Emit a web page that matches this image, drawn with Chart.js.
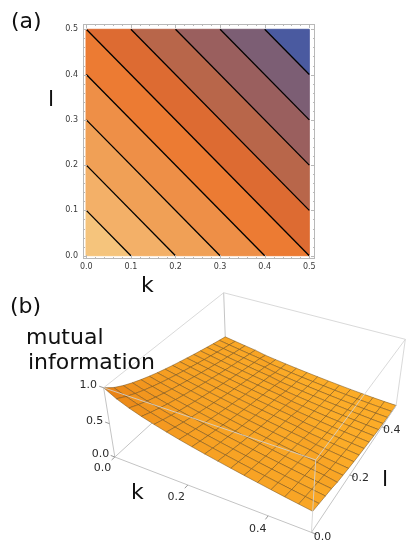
<!DOCTYPE html>
<html><head><meta charset="utf-8">
<script src="https://cdn.jsdelivr.net/npm/chart.js@4.4.1/dist/chart.umd.min.js"></script>
<style>
html,body{margin:0;padding:0;background:#fff;width:416px;height:550px;overflow:hidden}
canvas{position:absolute;left:0;top:0}
.lbl{position:absolute;font-family:"DejaVu Sans";font-size:22px;line-height:22px;color:#111;white-space:nowrap}
</style></head><body>
<canvas id="ca" width="416" height="300"></canvas>
<canvas id="cb" width="416" height="550" style="pointer-events:none"></canvas>
<div class="lbl" style="left:11px;top:10px">(a)</div>
<div class="lbl" style="left:48px;top:88px">l</div>
<div class="lbl" style="left:141px;top:274px">k</div>
<div class="lbl" style="left:10px;top:295px">(b)</div>
<div class="lbl" style="left:26px;top:326px">mutual</div>
<div class="lbl" style="left:28px;top:351px">information</div>
<div class="lbl" style="left:131px;top:481px">k</div>
<div class="lbl" style="left:382px;top:468px">l</div>
<script>
// ---------- data ----------
const kRange = [0, 0.5];
const lRange = [0, 0.5];
const zRange = [0, 1];
const kTicks = [0, 0.1, 0.2, 0.3, 0.4, 0.5];
const lTicks = [0, 0.1, 0.2, 0.3, 0.4, 0.5];
const contourLevels = [0.1, 0.2, 0.3, 0.4, 0.5, 0.6, 0.7, 0.8, 0.9];   // k + l
const bandColors = ['#F5C47C','#F3B068','#F0A056','#EE8F47','#EC7B33','#DD6B32','#B8664A','#9A5F5E','#7C5E74','#4A5AA0'];
// mutual information read along k + l, in steps of 1/32
const miProfile = [1.000,0.905,0.835,0.777,0.726,0.680,0.637,0.598,0.561,0.526,0.492,0.459,0.427,0.396,0.366,0.337,
                   0.309,0.282,0.256,0.231,0.195,0.172,0.150,0.129,0.110,0.092,0.075,0.059,0.044,0.031,0.019,0.009,0.002];
const meshCells = 16;
const kTicks3D = [0, 0.2, 0.4];
const lTicks3D = [0, 0.2, 0.4];
const zTicks3D = [0, 0.5, 1];

// ---------- panel (a) ----------
function clipHalf(poly, f){
  const out=[];
  for(let i=0;i<poly.length;i++){
    const a=poly[i], b=poly[(i+1)%poly.length], fa=f(a), fb=f(b);
    if(fa>=0) out.push(a);
    if((fa>=0)!==(fb>=0)){const t=fa/(fa-fb); out.push({x:a.x+t*(b.x-a.x), y:a.y+t*(b.y-a.y)});}
  }
  return out;
}
const k0=kRange[0],k1=kRange[1],l0=lRange[0],l1=lRange[1],z0=zRange[0],z1=zRange[1];
const square=[{x:k0,y:l0},{x:k1,y:l0},{x:k1,y:l1},{x:k0,y:l1}];
const bounds=[k0+l0, ...contourLevels, k1+l1];
const dsA=[];
contourLevels.forEach(c=>{
  const xa=Math.max(k0,c-l1), xb=Math.min(k1,c-l0);
  dsA.push({data:[{x:xa,y:c-xa},{x:xb,y:c-xb}], borderColor:'#000', borderWidth:1.3, pointRadius:0, fill:false, order:0});
});
for(let b=0;b<bandColors.length;b++){
  const lo=bounds[b], hi=bounds[b+1];
  let poly=clipHalf(square,p=>p.x+p.y-lo);
  poly=clipHalf(poly,p=>hi-(p.x+p.y));
  poly.push(poly[0]);
  dsA.push({data:poly, backgroundColor:bandColors[b], borderColor:bandColors[b], borderWidth:1, pointRadius:0, fill:'shape', order:1});
}
const frameA={id:'frameA', afterDatasetsDraw(chart){
  const {ctx, chartArea:a, scales:{x,y}}=chart;
  ctx.save();
  ctx.strokeStyle='#b8b8b8'; ctx.lineWidth=1;
  ctx.strokeRect(a.left+0.5,a.top+0.5,a.right-a.left-1,a.bottom-a.top-1);
  ctx.beginPath();
  for(let v=k0; v<=k1+1e-9; v+=0.02){
    const major=kTicks.some(t=>Math.abs(t-v)<1e-6), L=major?4:2, px=Math.round(x.getPixelForValue(v))+0.5;
    ctx.moveTo(px,a.bottom); ctx.lineTo(px,a.bottom-L); ctx.moveTo(px,a.top); ctx.lineTo(px,a.top+L);
  }
  for(let v=l0; v<=l1+1e-9; v+=0.02){
    const major=lTicks.some(t=>Math.abs(t-v)<1e-6), L=major?4:2, py=Math.round(y.getPixelForValue(v))+0.5;
    ctx.moveTo(a.left,py); ctx.lineTo(a.left+L,py); ctx.moveTo(a.right,py); ctx.lineTo(a.right-L,py);
  }
  ctx.stroke();
  ctx.fillStyle='#3a3a3a'; ctx.font='8px "DejaVu Sans"';
  ctx.textAlign='center'; ctx.textBaseline='middle';
  kTicks.forEach(v=>ctx.fillText(v.toFixed(1), x.getPixelForValue(v), a.bottom+7.5));
  ctx.textAlign='right';
  lTicks.forEach(v=>ctx.fillText(v.toFixed(1), a.left-5, y.getPixelForValue(v)));
  ctx.restore();
}};
new Chart(document.getElementById('ca'),{
  type:'line', data:{datasets:dsA},
  options:{responsive:false, animation:false, events:[],
    layout:{padding:{left:83,top:24,right:101,bottom:41}},
    plugins:{legend:{display:false},tooltip:{enabled:false}},
    scales:{x:{type:'linear',display:false,min:-0.0074,max:0.5128},
            y:{type:'linear',display:false,min:-0.0073,max:0.5117}}},
  plugins:[frameA]
});

// ---------- panel (b) ----------
const view={vp:[1.3,-2.4,2], box:[1,1,0.4], cx:262, cy:397.4, sx:725, sy:710, w:416, h:550};
const sub=(a,b)=>[a[0]-b[0],a[1]-b[1],a[2]-b[2]], dot=(a,b)=>a[0]*b[0]+a[1]*b[1]+a[2]*b[2];
const cross=(a,b)=>[a[1]*b[2]-a[2]*b[1],a[2]*b[0]-a[0]*b[2],a[0]*b[1]-a[1]*b[0]];
const norm=a=>{const n=Math.hypot(...a);return a.map(v=>v/n);};
const fwd=norm(view.vp.map(v=>-v)), right=norm(cross(fwd,[0,0,1])), up=cross(right,fwd);
function toBox(k,l,z){return [((k-k0)/(k1-k0)-0.5)*view.box[0], ((l-l0)/(l1-l0)-0.5)*view.box[1], ((z-z0)/(z1-z0)-0.5)*view.box[2]];}
function proj(k,l,z){const rel=sub(toBox(k,l,z),view.vp), d=dot(rel,fwd);return {x:dot(rel,right)/d, y:dot(rel,up)/d};}
function depthOf(k,l,z){return Math.hypot(...sub(toBox(k,l,z),view.vp));}

const draws=[];
const edgeBack='#c4c4c4', edgeFront='rgba(210,210,210,0.85)';
function edge(a,b,col){draws.push({data:[proj(...a),proj(...b)], borderColor:col, borderWidth:1, pointRadius:0, fill:false});}
// edges hidden behind the surface
edge([k0,l0,z0],[k0,l1,z0],edgeBack); edge([k0,l1,z0],[k1,l1,z0],edgeBack);
edge([k0,l1,z0],[k0,l1,z1],edgeBack); edge([k0,l0,z0],[k0,l0,z1],edgeBack);
// surface
const dk=(k1-k0)/meshCells, dl=(l1-l0)/meshCells;
const zAt=(i,j)=>miProfile[i+j];
const quads=[];
const L=norm([-0.25,-0.45,1]);
for(let i=0;i<meshCells;i++)for(let j=0;j<meshCells;j++){
  const ka=k0+i*dk, kb=ka+dk, la=l0+j*dl, lb=la+dl;
  const z00=zAt(i,j), z10=zAt(i+1,j), z11=zAt(i+1,j+1), z01=zAt(i,j+1);
  const p00=toBox(ka,la,z00), p10=toBox(kb,la,z10), p11=toBox(kb,lb,z11), p01=toBox(ka,lb,z01);
  const n=norm(cross(sub(p11,p00),sub(p01,p10)));
  const s=Math.max(0,Math.min(1,(dot(n,L)-0.5)/(0.8-0.5)));
  const c0=[234,132,22], c1=[252,172,40];
  const col='rgb('+c0.map((v,q)=>Math.round(v+(c1[q]-v)*s)).join(',')+')';
  quads.push({depth:depthOf((ka+kb)/2,(la+lb)/2,(z00+z10+z11+z01)/4),
    data:[proj(ka,la,z00),proj(kb,la,z10),proj(kb,lb,z11),proj(ka,lb,z01),proj(ka,la,z00)], col});
}
quads.sort((a,b)=>b.depth-a.depth);
quads.forEach(q=>draws.push({data:q.data, backgroundColor:q.col, borderColor:'rgba(110,75,25,0.62)', borderWidth:0.8, pointRadius:0, fill:'shape'}));
// edges in front
edge([k0,l0,z0],[k1,l0,z0],edgeBack); edge([k1,l0,z0],[k1,l1,z0],edgeBack);
edge([k1,l0,z0],[k1,l0,z1],edgeFront); edge([k1,l1,z0],[k1,l1,z1],edgeFront);
edge([k0,l0,z1],[k1,l0,z1],edgeFront); edge([k1,l0,z1],[k1,l1,z1],edgeFront);
edge([k1,l1,z1],[k0,l1,z1],edgeFront); edge([k0,l1,z1],[k0,l0,z1],edgeFront);
// tick marks
kTicks3D.forEach(v=>edge([v,l0,z0],[v,l0-0.012,z0],'#999'));
lTicks3D.forEach(v=>edge([k1,v,z0],[k1+0.012,v,z0],'#999'));
zTicks3D.forEach(v=>edge([k0,l0,v],[k0-0.012,l0,v],'#999'));
draws.forEach((d,i)=>d.order=-i);

const labelsB={id:'labelsB', afterDatasetsDraw(chart){
  const {ctx, scales:{x,y}}=chart;
  ctx.save(); ctx.fillStyle='#2a2a2a'; ctx.font='11px "DejaVu Sans"'; ctx.textAlign='center'; ctx.textBaseline='middle';
  const put=(p,t)=>ctx.fillText(t, x.getPixelForValue(p.x), y.getPixelForValue(p.y));
  zTicks3D.forEach(v=>put(proj(k0-0.036,l0-0.007,v), v.toFixed(1)));
  kTicks3D.forEach(v=>put(proj(v,l0-0.045,z0), v.toFixed(1)));
  lTicks3D.forEach(v=>put(proj(k1+0.025,v,z0), v.toFixed(1)));
  ctx.restore();
}};
new Chart(document.getElementById('cb'),{
  type:'line', data:{datasets:draws},
  options:{responsive:false, animation:false, events:[],
    layout:{padding:0},
    plugins:{legend:{display:false},tooltip:{enabled:false}},
    scales:{x:{type:'linear',display:false,min:-view.cx/view.sx,max:(view.w-view.cx)/view.sx},
            y:{type:'linear',display:false,min:(view.cy-view.h)/view.sy,max:view.cy/view.sy}}},
  plugins:[labelsB]
});
</script>
</body></html>
